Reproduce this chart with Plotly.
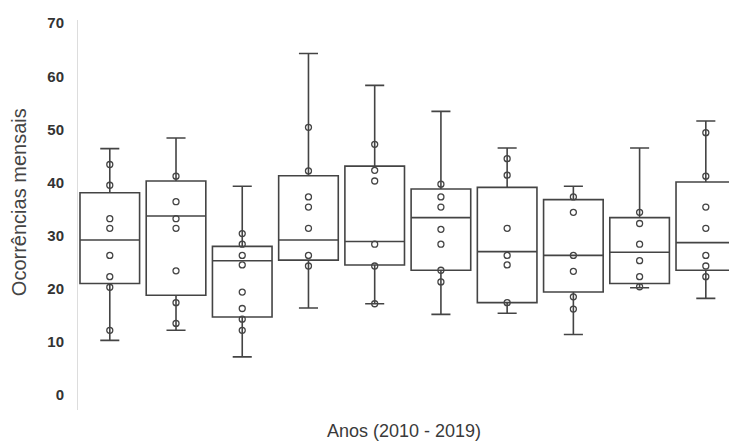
import plotly.graph_objects as go

years = ["2010", "2011", "2012", "2013", "2014", "2015", "2016", "2017", "2018", "2019"]
q1 = [21.0, 18.8, 14.7, 25.4, 24.5, 23.5, 17.4, 19.4, 21.0, 23.5]
median = [29.2, 33.7, 25.3, 29.2, 28.9, 33.4, 27.0, 26.3, 26.9, 28.7]
q3 = [38.1, 40.3, 28.0, 41.3, 43.1, 38.8, 39.1, 36.8, 33.4, 40.1]
lower = [10.3, 12.2, 7.2, 16.4, 17.2, 15.2, 15.4, 11.4, 20.2, 18.2]
upper = [46.4, 48.4, 39.3, 64.3, 58.3, 53.4, 46.5, 39.3, 46.5, 51.6]

points = {
    "2010": [43.4, 39.5, 33.2, 31.4, 26.3, 22.3, 20.3, 12.2],
    "2011": [41.2, 36.4, 33.2, 31.4, 23.4, 17.4, 13.5],
    "2012": [30.4, 28.4, 26.3, 24.5, 19.4, 16.3, 14.3, 12.2],
    "2013": [50.4, 42.2, 37.3, 35.4, 31.4, 26.3, 24.3],
    "2014": [47.2, 42.3, 40.3, 28.4, 24.3, 17.2],
    "2015": [39.7, 37.3, 35.4, 31.2, 28.4, 23.5, 21.3],
    "2016": [44.5, 41.4, 31.4, 26.3, 24.5, 17.4],
    "2017": [37.3, 34.4, 26.3, 23.3, 18.5, 16.2],
    "2018": [34.4, 32.3, 28.4, 25.3, 22.3, 20.4],
    "2019": [49.4, 41.2, 35.4, 31.4, 26.3, 24.3, 22.3],
}

line_col = "#444444"

fig = go.Figure()
fig.add_trace(go.Box(
    x=years, q1=q1, median=median, q3=q3,
    lowerfence=lower, upperfence=upper,
    boxpoints=False, width=0.9, whiskerwidth=0.32,
    fillcolor="white", line=dict(color=line_col, width=1.6),
    showlegend=False, hoverinfo="skip",
))

px_, py_ = [], []
for y in years:
    for v in points[y]:
        px_.append(y)
        py_.append(v)

fig.add_trace(go.Scatter(
    x=px_, y=py_, mode="markers",
    marker=dict(symbol="circle-open", size=6, color=line_col,
                line=dict(width=1.3, color=line_col)),
    showlegend=False, hoverinfo="skip",
))

fig.update_layout(
    width=729, height=442,
    margin=dict(l=78, r=0, t=20, b=32),
    paper_bgcolor="white", plot_bgcolor="white",
    font=dict(family="Liberation Sans, Arial, sans-serif", color="#333333"),
    annotations=[
        dict(text="Anos (2010 - 2019)", xref="paper", yref="paper",
             x=0.5008, y=-0.054, xanchor="center", yanchor="middle",
             showarrow=False, font=dict(size=18, color="#3a3a3a")),
        dict(text="Ocorrências mensais", xref="paper", yref="paper",
             x=-0.0906, y=0.533, xanchor="center", yanchor="middle",
             textangle=-90, showarrow=False, font=dict(size=20, color="#444444")),
    ],
)
fig.update_xaxes(
    type="category", range=[-0.48, 9.35], automargin=False,
    showticklabels=False, ticks="", showgrid=False, zeroline=False,
    showline=False,
)
fig.update_yaxes(
    range=[-2.8, 70.6], tickvals=[0, 10, 20, 30, 40, 50, 60, 70],
    automargin=False,
    showgrid=False, zeroline=False,
    showline=True, linecolor="#dddddd", linewidth=1,
    ticks="", ticklabelstandoff=10,
    tickfont=dict(size=15, color="#333333", family="Liberation Sans, Arial, sans-serif", weight="bold"),
)

fig.write_html(
    "out.html",
    config={"displayModeBar": False},
    post_script="document.body.style.margin='0';document.body.style.overflow='hidden';",
)
